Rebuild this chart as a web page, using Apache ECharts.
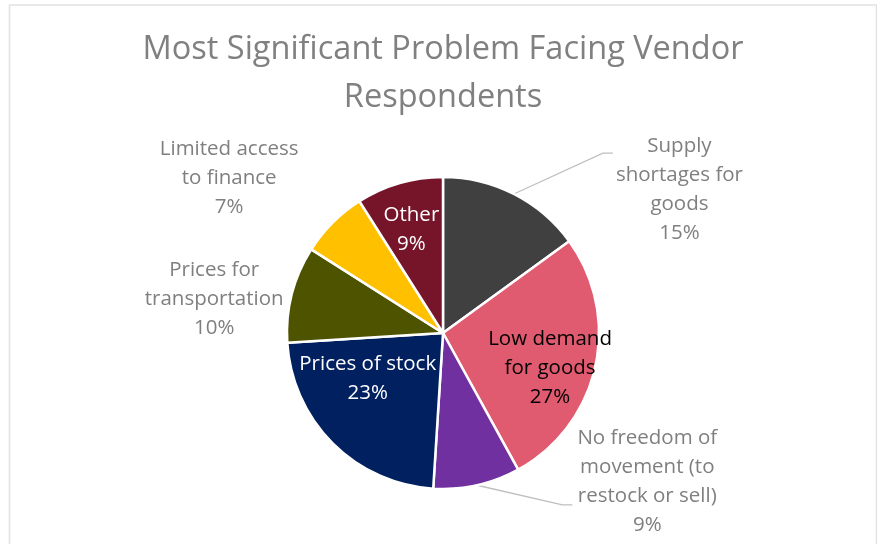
<!DOCTYPE html>
<html>
<head>
<meta charset="utf-8">
<title>Most Significant Problem Facing Vendor Respondents</title>
<script src="https://cdn.jsdelivr.net/npm/echarts@6/dist/echarts.min.js"></script>
<style>
    html, body {
        margin: 0;
        padding: 0;
        background: #fff;
    }
    #chart {
        width: 877px;
        height: 544px;
    }
</style>
</head>
<body>
<div id="chart"></div>
<script>

    /**
     * 扇区名称（按图中换行）
     */
    var categories = [
        'Supply\nshortages for\ngoods',
        'Low demand\nfor goods',
        'No freedom of\nmovement (to\nrestock or sell)',
        'Prices of stock',
        'Prices for\ntransportation',
        'Limited access\nto finance',
        'Other'
    ];

    /**
     * 百分比
     */
    var values = [15, 27, 9, 23, 10, 7, 9];

    var colors = ['#404040', '#e05a70', '#7030a0', '#002060', '#4e5300', '#ffc000', '#76152a'];

    /**
     * 标签摆放：内/外、文字颜色、是否有引线、相对默认位置的偏移
     */
    var labelStyles = [
        {position: 'outside', color: '#7f7f7f', line: true, lineAt: 0.19, gap: 3, nudge: [68, 13]},
        {position: 'inside', color: '#000000', line: false, nudge: [28, 17]},
        {position: 'outside', color: '#7f7f7f', line: true, lineAt: 0.70, gap: 5, nudge: [71, -23]},
        {position: 'inside', color: '#ffffff', line: false, nudge: [-18, -12]},
        {position: 'outside', color: '#7f7f7f', line: false, nudge: [36, 10]},
        {position: 'outside', color: '#7f7f7f', line: false, nudge: [5, -30]},
        {position: 'inside', color: '#ffffff', line: false, nudge: [-9, -26]}
    ];

    var font = '"Open Sans", sans-serif';

    var chart = echarts.init(document.getElementById('chart'));

    var seriesData = values.map(function (v, i) {
        var s = labelStyles[i];
        return {
            name: categories[i],
            value: v,
            itemStyle: {color: colors[i]},
            label: {position: s.position, color: s.color},
            labelLine: {show: s.line}
        };
    });

    var option = {
        animation: false,
        title: {
            text: 'Most Significant Problem Facing Vendor\nRespondents',
            left: 443,
            top: 26,
            padding: 0,
            textAlign: 'center',
            textStyle: {
                fontFamily: font,
                fontSize: 32.5,
                fontWeight: 'normal',
                lineHeight: 48,
                color: '#808080'
            }
        },
        graphic: [{
            type: 'rect',
            silent: true,
            shape: {x: 9.5, y: 5, width: 867, height: 560},
            style: {fill: 'none', stroke: '#e2e2e2', lineWidth: 1.6}
        }],
        series: [{
            type: 'pie',
            center: [443, 333],
            radius: 156,
            startAngle: 90,
            clockwise: true,
            avoidLabelOverlap: false,
            itemStyle: {
                borderColor: '#ffffff',
                borderWidth: 2.5
            },
            label: {
                fontFamily: font,
                fontSize: 20.5,
                lineHeight: 29,
                formatter: function (p) {
                    return p.name + '\n' + Math.round(p.percent) + '%';
                }
            },
            labelLine: {
                length: 20,
                length2: 20,
                lineStyle: {color: '#bfbfbf', width: 1.3}
            },
            labelLayout: function (params) {
                var s = labelStyles[params.dataIndex];
                var r = params.labelRect;
                var cx = r.x + r.width / 2 + s.nudge[0];
                var cy = r.y + r.height / 2 + s.nudge[1];
                var layout = {
                    x: cx,
                    y: cy,
                    align: 'center',
                    verticalAlign: 'middle'
                };
                if (s.line && params.labelLinePoints) {
                    // 引线：从扇区边缘折到标签左侧
                    var start = params.labelLinePoints[0];
                    var endX = cx - r.width / 2 - s.gap;
                    var endY = cy - r.height / 2 + r.height * s.lineAt;
                    layout.labelLinePoints = [
                        [start[0], start[1]],
                        [endX - 10, endY],
                        [endX, endY]
                    ];
                }
                return layout;
            },
            emphasis: {disabled: true},
            data: seriesData
        }]
    };

    chart.setOption(option);

</script>
</body>
</html>
